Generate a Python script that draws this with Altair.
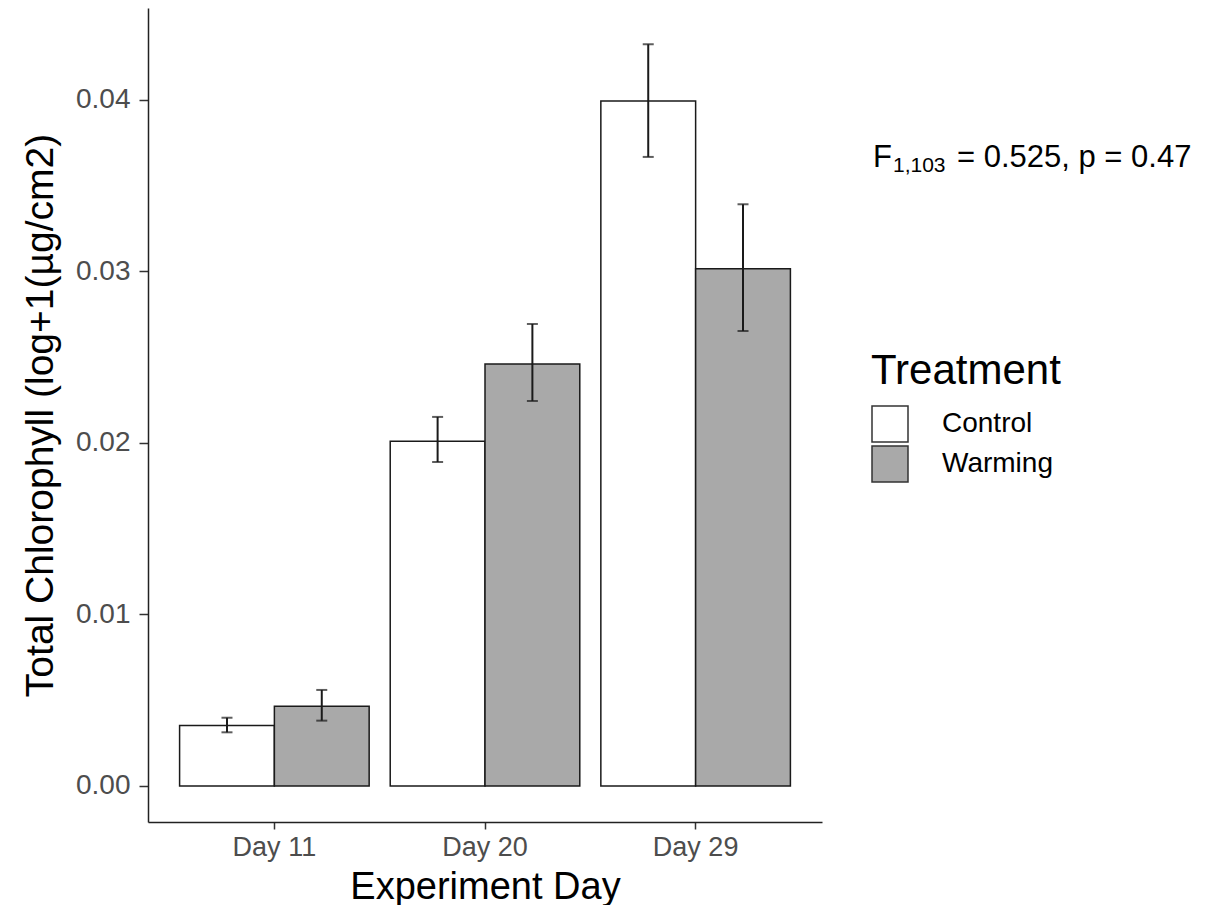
import altair as alt
import pandas as pd

# ---- data ----
days = ["Day 11", "Day 20", "Day 29"]
treatments = ["Control", "Warming"]
control_mean = [0.00352, 0.0201, 0.03994]
control_lower = [0.00313, 0.01889, 0.03668]
control_upper = [0.00398, 0.02152, 0.04325]
warming_mean = [0.00465, 0.0246, 0.03016]
warming_lower = [0.00381, 0.02245, 0.02653]
warming_upper = [0.0056, 0.02694, 0.03392]
bar_colors = ["#FFFFFF", "#A9A9A9"]
y_ticks = [0.0, 0.01, 0.02, 0.03, 0.04]
annotation = ["F", "1,103", "= 0.525, p = 0.47"]

rows = []
for i, d in enumerate(days):
    rows.append(dict(Day=d, Treatment="Control", mean=control_mean[i],
                     lower=control_lower[i], upper=control_upper[i]))
    rows.append(dict(Day=d, Treatment="Warming", mean=warming_mean[i],
                     lower=warming_lower[i], upper=warming_upper[i]))
df = pd.DataFrame(rows)

W, H = 674, 814
FONT = "Liberation Sans"

x_axis = alt.Axis(
    title="Experiment Day", titleFontSize=38, titleColor="black", titleFontWeight="normal",
    titleFont=FONT, titleX=337, titleY=76, titleBaseline="alphabetic", titleAlign="center",
    labelFontSize=27, labelColor="#4D4D4D", labelFont=FONT, labelAngle=0, labelPadding=5,
    tickSize=7, tickColor="#333333", tickWidth=1.5,
    domainColor="#222222", domainWidth=1.5, grid=False,
)
y_axis = alt.Axis(
    title="Total Chlorophyll (log+1(µg/cm2)", titleFontSize=39, titleColor="black",
    titleFontWeight="normal", titleFont=FONT, titleAngle=270, titleX=-96, titleY=407,
    titleAlign="center", titleBaseline="alphabetic",
    values=y_ticks, format=".2f",
    labelFontSize=28, labelColor="#4D4D4D", labelFont=FONT, labelPadding=9,
    tickSize=9, tickColor="#333333", tickWidth=1.5,
    domainColor="#222222", domainWidth=1.5, grid=False,
)

x_enc = alt.X("Day:N", sort=days, axis=x_axis,
              scale=alt.Scale(paddingInner=0.1, paddingOuter=0.15))
xo_enc = alt.XOffset("Treatment:N", sort=treatments,
                     scale=alt.Scale(paddingInner=0, paddingOuter=0))
y_scale = alt.Scale(domain=[-0.0021, 0.045364], nice=False, zero=False)

base = alt.Chart(df)

bars = base.mark_bar(stroke="#1a1a1a", strokeWidth=1.5).encode(
    x=x_enc,
    xOffset=xo_enc,
    y=alt.Y("mean:Q", scale=y_scale, axis=y_axis),
    y2=alt.datum(0),
    fill=alt.Fill("Treatment:N", scale=alt.Scale(domain=treatments, range=bar_colors),
                  legend=alt.Legend(
                      title="Treatment", orient="none", legendX=723, legendY=343,
                      titleFontSize=42, titleFont=FONT, titleColor="black",
                      titleFontWeight="normal", titlePadding=12, titleLimit=500,
                      labelFontSize=28, labelFont=FONT, labelColor="black", labelLimit=400,
                      labelOffset=33, symbolType="square", symbolSize=1296,
                      symbolStrokeColor="#333333", symbolStrokeWidth=1.5,
                      rowPadding=-3, padding=0)),
)

rules = base.mark_rule(color="#1a1a1a", strokeWidth=2).encode(
    x=x_enc, xOffset=xo_enc,
    y=alt.Y("lower:Q", scale=y_scale, axis=y_axis),
    y2="upper:Q",
)
caps_hi = base.mark_tick(color="#1a1a1a", thickness=2, size=11).encode(
    x=x_enc, xOffset=xo_enc,
    y=alt.Y("upper:Q", scale=y_scale, axis=y_axis),
)
caps_lo = base.mark_tick(color="#1a1a1a", thickness=2, size=11).encode(
    x=x_enc, xOffset=xo_enc,
    y=alt.Y("lower:Q", scale=y_scale, axis=y_axis),
)

t_f = alt.Chart(pd.DataFrame({"t": [annotation[0]]})).mark_text(
    font=FONT, fontSize=31, align="left", baseline="alphabetic", color="black"
).encode(text="t:N", x=alt.value(725), y=alt.value(159))
t_sub = alt.Chart(pd.DataFrame({"t": [annotation[1]]})).mark_text(
    font=FONT, fontSize=21, align="left", baseline="alphabetic", color="black"
).encode(text="t:N", x=alt.value(745), y=alt.value(164))
t_rest = alt.Chart(pd.DataFrame({"t": [annotation[2]]})).mark_text(
    font=FONT, fontSize=31, align="left", baseline="alphabetic", color="black"
).encode(text="t:N", x=alt.value(809), y=alt.value(159))

chart = alt.layer(bars, rules, caps_hi, caps_lo, t_f, t_sub, t_rest).properties(
    width=W, height=H,
    autosize=alt.AutoSizeParams(type="none"),
    padding={"left": 148, "top": 8, "right": 386, "bottom": 83},
    background="white",
).configure(font=FONT).configure_view(stroke=None)

chart.save("out.html", embed_options={"renderer": "svg", "actions": False})
